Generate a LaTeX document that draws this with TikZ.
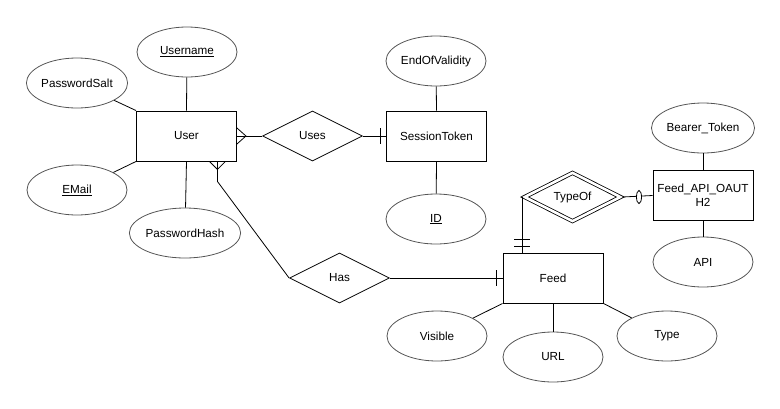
\documentclass[tikz,border=0pt]{standalone}
\usepackage{fontspec}
\setmainfont{Liberation Sans}
\usetikzlibrary{shapes.geometric,calc}
\definecolor{attrline}{HTML}{555555}
\begin{document}
\begin{tikzpicture}[x=1pt,y=-1pt,
  font=\fontsize{11.7}{13.5}\selectfont,
  entity/.style={draw=black, rectangle, minimum width=100pt, minimum height=50pt, inner sep=1pt, line width=0.9pt, fill=white},
  attr/.style={draw=attrline, ellipse, minimum width=100pt, minimum height=50pt, inner sep=0pt, line width=0.8pt},
  rel/.style={draw=black, diamond, minimum width=100pt, minimum height=50pt, inner sep=0pt, line width=0.8pt},
  conn/.style={draw=black, line width=0.8pt}]
\useasboundingbox (0,0) rectangle (780,408);

% entities
\node[entity] (user) at (186.5,136) {User};
\node[entity] (session) at (436.5,136) {SessionToken};
\node[entity] (feed) at (553,278) {Feed};
\node[entity, align=center] (api) at (703,195.5) {Feed\_API\_OAUT\\H2};

% relationships
\node[rel] (uses) at (312.5,136) {Uses};
\node[rel] (has) at (339.5,278) {Has};
\node[rel, double, double distance=2.6pt, minimum width=96pt, minimum height=46pt] (typeof) at (572.5,197) {TypeOf};

% attributes
\node[attr] (username) at (187,52) {\underline{Username}};
\node[attr] (psalt) at (77,83) {PasswordSalt};
\node[attr] (email) at (77,190) {\underline{EMail}};
\node[attr] (phash) at (185,233) {PasswordHash};
\node[attr] (endval) at (436,61) {EndOfValidity};
\node[attr] (id) at (436,219) {\underline{ID}};
\node[attr] (bearer) at (703,128) {Bearer\_Token};
\node[attr] (apiattr) at (703,262) {API};
\node[attr] (visible) at (437,336) {Visible};
\node[attr] (url) at (553,357) {URL};
\node[attr] (type) at (667,336) {Type};

% attribute connectors
\draw[conn] (user.north) -- (username);
\draw[conn] (user.north west) -- (psalt);
\draw[conn] (user.south west) -- (email);
\draw[conn] (user.south) -- (phash);
\draw[conn] (session.north) -- (endval);
\draw[conn] (session.south) -- (id);
\draw[conn] (api.north) -- (bearer);
\draw[conn] (api.south) -- (apiattr);
\draw[conn] (feed.south west) -- (visible);
\draw[conn] (feed.south) -- (url);
\draw[conn] (feed.south east) -- (type);

% User -- Uses -- SessionToken
\draw[conn] (user.east) -- (uses.west);
\draw[conn] ($(user.east)+(0,-8)$) -- ($(user.east)+(9,0)$) -- ($(user.east)+(0,8)$);
\draw[conn] (uses.east) -- (session.west);
\draw[conn] ($(session.west)+(-6,-8)$) -- ($(session.west)+(-6,8)$);

% User -- Has -- Feed
\coordinate (ub) at ($(user.south east)+(-19.5,0)$);
\draw[conn] (ub) -- ++(0,20) -- (has.west);
\draw[conn] ($(ub)+(-8,0)$) -- ($(ub)+(0,8)$) -- ($(ub)+(8,0)$);
\draw[conn] (has.east) -- (feed.west);
\draw[conn] ($(feed.west)+(-6,-8)$) -- ($(feed.west)+(-6,8)$);

% Feed -- TypeOf -- Feed_API_OAUTH2
\coordinate (ft) at ($(feed.north west)+(19.5,0)$);
\coordinate (tw) at ($(typeof.west)+(-1.5,0)$);
\draw[conn] (ft) |- (tw);
\draw[conn] ($(ft)+(-8,-13)$) -- ($(ft)+(8,-13)$);
\draw[conn] ($(ft)+(-8,-6)$) -- ($(ft)+(8,-6)$);
\coordinate (te) at ($(typeof.east)+(1.5,0)$);
\draw[conn] (te) -- (api.west);
\node[draw=black, fill=white, ellipse, line width=0.8pt, minimum width=5pt, minimum height=13pt, inner sep=0pt] (oval) at (639,197) {};
\end{tikzpicture}
\end{document}
